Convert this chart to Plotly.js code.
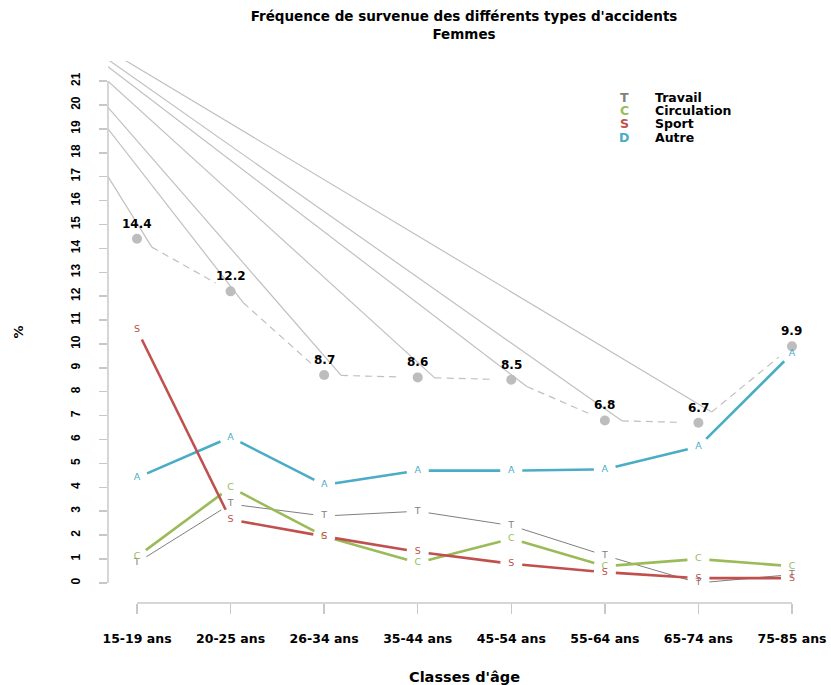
<!DOCTYPE html>
<html>
<head>
<meta charset="utf-8">
<script src="https://cdn.plot.ly/plotly-3.0.1.min.js"></script>
<style>html,body{margin:0;padding:0;background:#fff;}#chart{width:831px;height:685px;}</style>
</head>
<body>
<div id="chart"></div>
<script>
// ---- data ----
const categories = ['15-19 ans','20-25 ans','26-34 ans','35-44 ans','45-54 ans','55-64 ans','65-74 ans','75-85 ans'];
const travail     = [0.85, 3.3, 2.8, 3.0, 2.4, 1.15, 0.0, 0.35];
const circulation = [1.1, 4.0, 1.95, 0.85, 1.85, 0.7, 1.0, 0.7];
const sport       = [10.6, 2.65, 1.95, 1.3, 0.8, 0.45, 0.2, 0.2];
const autre       = [4.4, 6.1, 4.1, 4.7, 4.7, 4.75, 5.7, 9.6];
const total       = [14.4, 12.2, 8.7, 8.6, 8.5, 6.8, 6.7, 9.9];
// grey leader lines: value where each one leaves the left edge of the plot
const leaderOriginY = [17.0, 19.0, 19.9, 21.0, 21.6, 21.9, 22.3];
const yTicks = [0,1,2,3,4,5,6,7,8,9,10,11,12,13,14,15,16,17,18,19,20,21];
const legendLetters = ['T','C','S','D'];
const legendNames = ['Travail','Circulation','Sport','Autre'];

// ---- layout geometry ----
const W = 831, H = 685;
const M = {l:108, r:10, t:61, b:82, pad:0};
const xRange = [0.69, 8.31];
const yRange = [-0.84, 21.84];
const sx = (W - M.l - M.r) / (xRange[1] - xRange[0]);
const sy = (H - M.t - M.b) / (yRange[1] - yRange[0]);
const xs = categories.map((c, i) => i + 1);

const colT = '#7f7f7f', colC = '#9BBB59', colS = '#C0504D', colA = '#4BACC6';
const grey = '#c0c0c0';
const bold = 'DejaVu Sans';

// R type="b": segments shortened by a gap (in pixels) at both ends
function gapped(vals, g) {
  const X = [], Y = [], starts = [];
  for (let i = 0; i < vals.length - 1; i++) {
    const x0 = xs[i], y0 = vals[i], x1 = xs[i+1], y1 = vals[i+1];
    const dx = (x1 - x0) * sx, dy = (y1 - y0) * sy;
    const d = Math.hypot(dx, dy);
    if (d > 2 * g) {
      const f = g / d;
      const ax = x0 + f*(x1-x0), ay = y0 + f*(y1-y0);
      const bx = x1 - f*(x1-x0), by = y1 - f*(y1-y0);
      X.push(ax, bx, null); Y.push(ay, by, null);
      starts.push([ax, ay]);
    } else {
      starts.push([x0, y0]);
    }
  }
  return {X, Y, starts};
}

const traces = [];
const totSeg = gapped(total, 17);

// leader lines
const lx = [], ly = [];
totSeg.starts.forEach((p, i) => { lx.push(xRange[0], p[0], null); ly.push(leaderOriginY[i], p[1], null); });
traces.push({x: lx, y: ly, mode: 'lines', line: {color: grey, width: 1.2}, hoverinfo: 'skip'});
// dashed total
traces.push({x: totSeg.X, y: totSeg.Y, mode: 'lines', line: {color: grey, width: 1.2, dash: '7px,5px'}, hoverinfo: 'skip'});
traces.push({x: xs, y: total, mode: 'markers', marker: {color: '#bdbdbd', size: 10}, name: 'Total'});

function series(vals, letter, color, width) {
  const s = gapped(vals, 11);
  traces.push({x: s.X, y: s.Y, mode: 'lines', line: {color: color, width: width}, hoverinfo: 'skip'});
  traces.push({x: xs, y: vals, mode: 'text', text: vals.map(() => letter), textposition: 'middle center',
               textfont: {family: 'DejaVu Sans', size: 9.5, color: color}});
}
series(travail, 'T', colT, 1);
series(circulation, 'C', colC, 2.6);
series(autre, 'A', colA, 2.6);
series(sport, 'S', colS, 2.6);

const annotations = [];
total.forEach((v, i) => annotations.push({x: xs[i], y: v, text: v.toFixed(1), showarrow: false, yshift: 15,
  font: {family: bold, size: 12, weight: 'bold', color: '#000'}}));

const legendColors = [colT, colC, colS, colA];
legendLetters.forEach((L, i) => {
  const yp = 1 - (97 + i * 13.4 - M.t) / (H - M.t - M.b);
  annotations.push({xref: 'paper', yref: 'paper', x: (624 - M.l) / (W - M.l - M.r), y: yp, text: L,
    showarrow: false, xanchor: 'center', yanchor: 'middle', font: {family: bold, size: 12.5, weight: 'bold', color: legendColors[i]}});
  annotations.push({xref: 'paper', yref: 'paper', x: (653 - M.l) / (W - M.l - M.r), y: yp, text: legendNames[i],
    showarrow: false, xanchor: 'left', yanchor: 'middle', font: {family: bold, size: 12.5, weight: 'bold', color: '#000'}});
});

const axisCol = '#c8c8c8';
const shapes = [
  {type: 'line', xref: 'x', yref: 'paper', x0: xs[0], x1: xs[xs.length-1], y0: 0, y1: 0, line: {color: axisCol, width: 1.5}},
  {type: 'line', xref: 'paper', yref: 'y', x0: 0, x1: 0, y0: yTicks[0], y1: yTicks[yTicks.length-1], line: {color: axisCol, width: 1.5}}
];

const layout = {
  width: W, height: H, margin: M, showlegend: false,
  paper_bgcolor: '#fff', plot_bgcolor: '#fff',
  title: {text: "Fréquence de survenue des différents types d'accidents<br>Femmes",
          font: {family: bold, size: 13.5, weight: 'bold', color: '#000'},
          x: 464 / W, xanchor: 'center', xref: 'container', y: 1 - 21 / H, yanchor: 'middle', yref: 'container'},
  xaxis: {range: xRange, tickmode: 'array', tickvals: xs, ticktext: categories, ticks: 'outside', ticklen: 10,
          tickcolor: axisCol, tickwidth: 1.5, showline: false, showgrid: false, zeroline: false,
          tickfont: {family: bold, size: 12.5, weight: 'bold', color: '#000'}, ticklabelstandoff: 14,
          title: {text: "Classes d'âge", font: {family: bold, size: 14.5, weight: 'bold', color: '#000'}, standoff: 26}},
  yaxis: {range: yRange, tickmode: 'array', tickvals: yTicks, ticktext: yTicks.map(String), tickangle: -90,
          ticks: 'outside', ticklen: 8, tickcolor: axisCol, tickwidth: 1.5, showline: false, showgrid: false, zeroline: false,
          tickfont: {family: 'Liberation Sans', size: 12, weight: 'bold', color: '#000'}, ticklabelstandoff: 14,
          title: {text: '%', font: {family: bold, size: 13, weight: 'bold', color: '#000'}, standoff: 42}},
  annotations: annotations, shapes: shapes
};

Plotly.newPlot('chart', traces, layout, {staticPlot: true, displayModeBar: false});
</script>
</body>
</html>
